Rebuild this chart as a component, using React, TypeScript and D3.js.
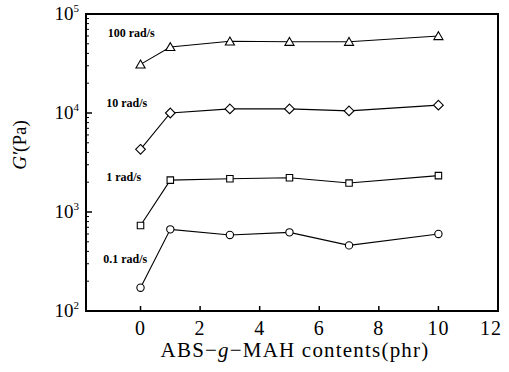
import React, { useEffect, useRef } from "react";
import * as d3 from "d3";

const contents = [0, 1, 3, 5, 7, 10];
const freqLabels = ["100 rad/s", "10 rad/s", "1 rad/s", "0.1 rad/s"];
const symbols = ["triangle", "diamond", "square", "circle"];
const g100 = [31000, 46500, 53000, 52500, 52500, 60000];
const g10 = [4300, 10000, 11000, 11000, 10500, 12000];
const g1 = [730, 2100, 2170, 2220, 1960, 2330];
const g01 = [172, 668, 586, 623, 460, 600];
const series = [g100, g10, g1, g01];
const xTicks = [0, 2, 4, 6, 8, 10, 12];
const yTicks = [100, 1000, 10000, 100000];
// where each label sits, in data units (x, G')
const labelPos = [
  [-1.1, 58000],
  [-1.15, 11500],
  [-1.15, 2050],
  [-1.25, 305],
];

const App = () => {
  const svgRef = useRef<SVGSVGElement>(null);

  useEffect(() => {
    const width = 509;
    const height = 372;
    const svg = d3.select(svgRef.current);
    svg.selectAll("*").remove();

    const left = 86, right = 498, top = 14, bottom = 311;
    const x = d3.scaleLinear().domain([-1.83, 12]).range([left, right]);
    const y = d3.scaleLog().domain([100, 100000]).range([bottom, top]);

    const font = "'Liberation Serif', 'DejaVu Serif', 'Times New Roman', Times, serif";

    svg.style("font-family", font);

    // frame
    svg.append("rect")
      .attr("x", left).attr("y", top)
      .attr("width", right - left).attr("height", bottom - top)
      .attr("fill", "none").attr("stroke", "#000").attr("stroke-width", 2);

    // x ticks (inward)
    svg.append("g").selectAll("line").data(xTicks.slice(0, -1)).join("line")
      .attr("x1", (d) => x(d)).attr("x2", (d) => x(d))
      .attr("y1", bottom).attr("y2", bottom - 5)
      .attr("stroke", "#000").attr("stroke-width", 1.5);
    // the last label is pulled in so it stays inside the page
    svg.append("g").selectAll("text").data(xTicks).join("text")
      .attr("x", (d) => (d === 12 ? x(d) - 7 : x(d)))
      .attr("y", 335)
      .attr("text-anchor", "middle")
      .style("font-size", "20px")
      .style("letter-spacing", "1px")
      .text((d) => String(d));

    // y ticks, major + minor
    const minor: number[] = [];
    for (let e = 2; e < 5; e++) for (let m = 2; m <= 9; m++) minor.push(m * Math.pow(10, e));
    svg.append("g").selectAll("line").data(minor).join("line")
      .attr("x1", left).attr("x2", left + 3)
      .attr("y1", (d) => y(d)).attr("y2", (d) => y(d))
      .attr("stroke", "#000").attr("stroke-width", 1);
    svg.append("g").selectAll("line").data(yTicks).join("line")
      .attr("x1", left).attr("x2", left + 6)
      .attr("y1", (d) => y(d)).attr("y2", (d) => y(d))
      .attr("stroke", "#000").attr("stroke-width", 1.5);
    const yl = svg.append("g").selectAll("text").data(yTicks).join("text")
      .attr("x", 79).attr("y", (d) => y(d) + 6)
      .attr("text-anchor", "end")
      .style("font-size", "19px");
    yl.append("tspan").text("10");
    yl.append("tspan").attr("dy", -8).style("font-size", "11px")
      .text((d) => String(Math.round(Math.log10(d))));

    // axis titles
    const xt = svg.append("text")
      .attr("x", 295).attr("y", 357).attr("text-anchor", "middle")
      .style("font-size", "21px")
      .style("letter-spacing", "1.2px");
    xt.append("tspan").text("ABS\u2212");
    xt.append("tspan").style("font-style", "italic").text("g");
    xt.append("tspan").text("\u2212MAH contents(phr)");

    const yt = svg.append("text")
      .attr("transform", "translate(26,145) rotate(-90)")
      .attr("text-anchor", "middle")
      .style("font-size", "19px");
    yt.append("tspan").style("font-style", "italic").text("G\u2032");
    yt.append("tspan").text("(Pa)");

    const line = d3.line<number>()
      .x((_, i) => x(contents[i]))
      .y((d) => y(d));

    series.forEach((vals, si) => {
      svg.append("path")
        .attr("d", line(vals))
        .attr("fill", "none").attr("stroke", "#000").attr("stroke-width", 1.1);

      const symType =
        symbols[si] === "triangle" ? d3.symbolTriangle
        : symbols[si] === "diamond" ? d3.symbolDiamond2
        : symbols[si] === "square" ? d3.symbolSquare
        : d3.symbolCircle;
      const size = symbols[si] === "diamond" ? 60 : symbols[si] === "triangle" ? 36 : 42;
      const sym = d3.symbol().type(symType).size(size);

      svg.append("g").selectAll("path").data(vals).join("path")
        .attr("transform", (d, i) => `translate(${x(contents[i])},${y(d) + (symbols[si] === "triangle" ? 1 : 0)})`)
        .attr("d", sym())
        .attr("fill", "#fff").attr("stroke", "#000").attr("stroke-width", 1.1);

      svg.append("text")
        .attr("x", x(labelPos[si][0])).attr("y", y(labelPos[si][1]))
        .style("font-size", "12px").style("font-weight", "bold")
        .text(freqLabels[si]);
    });

    svg.attr("width", width).attr("height", height);
  }, []);

  return (
    <svg ref={svgRef} style={{ position: "absolute", left: 0, top: 0, background: "#fff" }}></svg>
  );
};

export default App;
